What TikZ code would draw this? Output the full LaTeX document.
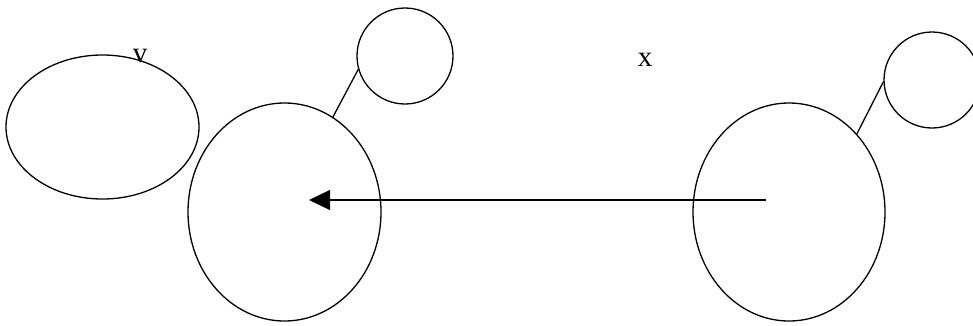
\documentclass[tikz,border=0pt]{standalone}
\usepackage{fontspec}
\setmainfont{Liberation Serif}
\usepackage{tikz}
\usetikzlibrary{arrows.meta,shapes.geometric}

\begin{document}
\begin{tikzpicture}[x=1pt, y=-1pt, line width=1.3pt, every node/.style={font=\fontsize{29}{32}\selectfont, inner sep=0pt}]
\useasboundingbox (0,0) rectangle (973,325);
\node[ellipse, draw, minimum width=193pt, minimum height=144pt] (cloud) at (102.5,127) {};
\node[ellipse, draw, minimum width=193pt, minimum height=218pt] (bigl) at (284.5,212) {};
\node[circle, draw, minimum size=96pt] (smalll) at (405,56) {};
\node[ellipse, draw, minimum width=192pt, minimum height=218pt] (bigr) at (789,212) {};
\node[circle, draw, minimum size=96pt] (smallr) at (932,80) {};
\node (v) at (140,56) {v};
\node (x) at (645,60) {x};
\draw (bigl.63) -- (smalll.196);
\draw (bigr.49) -- (smallr.182);
\coordinate (tail) at (766,200);
\coordinate (tip) at (309,200);
\draw[-{Triangle[length=21pt, width=20pt]}] (tail) -- (tip);
\end{tikzpicture}
\end{document}
